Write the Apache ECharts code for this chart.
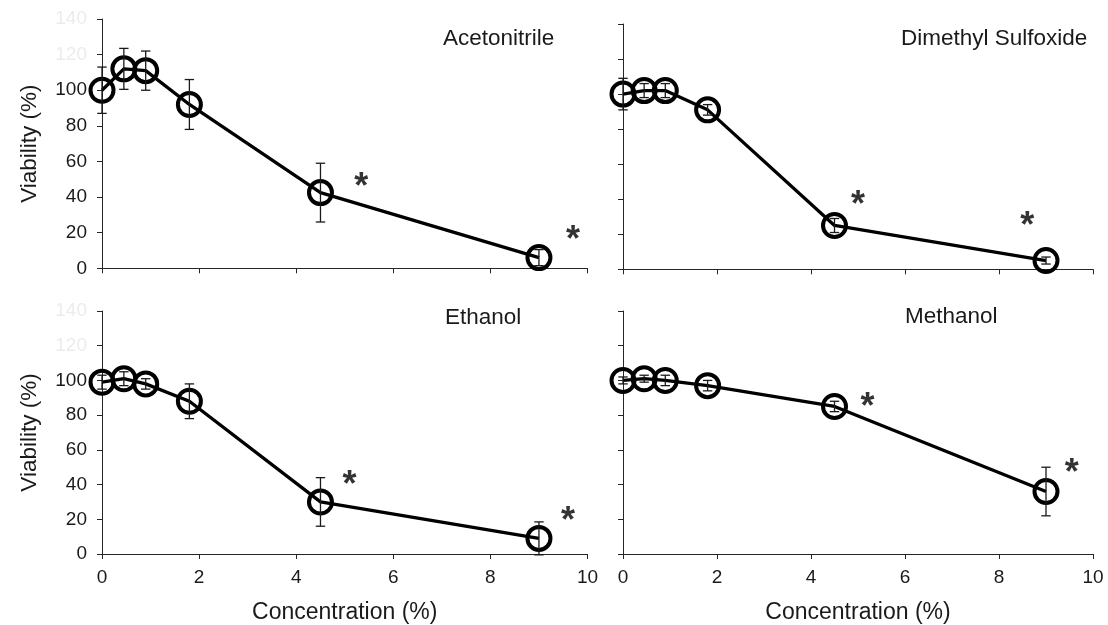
<!DOCTYPE html>
<html>
<head>
<meta charset="utf-8">
<script src="https://cdn.jsdelivr.net/npm/echarts@6/dist/echarts.min.js"></script>
<style>
html,body{margin:0;padding:0;background:#fff;}
#chart{width:1108px;height:625px;}
</style>
</head>
<body>
<div id="chart"></div>
<script>
// ---- data ----
const concentrations = [0, 0.45, 0.9, 1.8, 4.5, 9];
const panelTitles = ['Acetonitrile', 'Dimethyl Sulfoxide', 'Ethanol', 'Methanol'];
const acetonitrileMean = [100, 112, 111, 92, 42.5, 6];
const acetonitrileErr  = [13, 11.5, 11, 14, 16.5, 4.5];
const dmsoMean = [100, 102, 102, 91, 25, 5];
const dmsoErr  = [9, 4, 4, 3, 4, 2];
const ethanolMean = [99, 101, 98, 88, 30, 9];
const ethanolErr  = [4, 4, 3, 10, 14, 9.5];
const methanolMean = [100, 101, 100, 97, 85, 36];
const methanolErr  = [2, 2, 3, 3, 3, 14];
const acetonitrileStars = [[5.34, 47.7], [9.7, 18]];
const dmsoStars = [[5.0, 39], [8.6, 27]];
const ethanolStars = [[5.1, 42], [9.6, 21]];
const methanolStars = [[5.2, 87], [9.55, 49]];
const yTicks = [0, 20, 40, 60, 80, 100, 120, 140];
const xTicks = [0, 2, 4, 6, 8, 10];
const xAxisTitle = 'Concentration (%)';
const yAxisTitle = 'Viability (%)';

const means = [acetonitrileMean, dmsoMean, ethanolMean, methanolMean];
const errs = [acetonitrileErr, dmsoErr, ethanolErr, methanolErr];
const stars = [acetonitrileStars, dmsoStars, ethanolStars, methanolStars];

const FONT = '"Liberation Sans", Arial, sans-serif';
const AXIS_COLOR = '#262626';
const TEXT_COLOR = '#1a1a1a';

const grids = [
  {left: 102, top: 19, width: 485.5, height: 249.3},
  {left: 623, top: 24, width: 470, height: 245.3},
  {left: 102, top: 311, width: 485.5, height: 243.5},
  {left: 623, top: 311, width: 470, height: 244}
];
const titlePos = [
  {left: 443, top: 27},
  {left: 901, top: 27},
  {left: 445, top: 306},
  {left: 905, top: 305}
];

const xAxes = grids.map((g, i) => ({
  type: 'value', gridIndex: i, min: xTicks[0], max: xTicks[xTicks.length - 1], interval: 2,
  splitLine: {show: false},
  axisLine: {lineStyle: {color: AXIS_COLOR, width: 1}},
  axisTick: {show: true, length: 5, lineStyle: {color: AXIS_COLOR}},
  axisLabel: {show: i >= 2, color: TEXT_COLOR, fontSize: 19, fontFamily: FONT, margin: 14},
  name: i >= 2 ? xAxisTitle : '',
  nameLocation: 'middle', nameGap: 47,
  nameTextStyle: {fontSize: 23, fontFamily: FONT, color: TEXT_COLOR}
}));
const yAxes = grids.map((g, i) => ({
  type: 'value', gridIndex: i, min: yTicks[0], max: yTicks[yTicks.length - 1], interval: 20,
  splitLine: {show: false},
  axisLine: {show: true, lineStyle: {color: AXIS_COLOR, width: 1}},
  axisTick: {show: true, length: 5, lineStyle: {color: AXIS_COLOR}},
  axisLabel: {show: i % 2 === 0, fontSize: 19, fontFamily: FONT, margin: 15,
    color: (v) => (Number(v) >= 120 ? '#ececec' : TEXT_COLOR)},
  name: i % 2 === 0 ? yAxisTitle : '',
  nameLocation: 'middle', nameRotate: 90, nameGap: 61,
  nameTextStyle: {fontSize: 22.5, fontFamily: FONT, color: TEXT_COLOR}
}));

const series = [];
means.forEach((m, i) => {
  const e = errs[i];
  series.push({
    type: 'custom', xAxisIndex: i, yAxisIndex: i, z: 3,
    data: concentrations.map((c, k) => [c, m[k] - e[k], m[k] + e[k]]),
    renderItem: function (params, api) {
      const x = api.value(0);
      const lo = api.coord([x, api.value(1)]);
      const hi = api.coord([x, api.value(2)]);
      const cw = 4.7;
      const st = {stroke: '#1a1a1a', lineWidth: 1.3};
      return {type: 'group', children: [
        {type: 'line', shape: {x1: lo[0], y1: lo[1], x2: hi[0], y2: hi[1]}, style: st},
        {type: 'line', shape: {x1: lo[0] - cw, y1: lo[1], x2: lo[0] + cw, y2: lo[1]}, style: st},
        {type: 'line', shape: {x1: hi[0] - cw, y1: hi[1], x2: hi[0] + cw, y2: hi[1]}, style: st}
      ]};
    }
  });
  series.push({
    type: 'line', xAxisIndex: i, yAxisIndex: i, z: 2,
    data: concentrations.map((c, k) => [c, m[k]]),
    symbol: 'circle', symbolSize: 23, showAllSymbol: true,
    lineStyle: {color: '#000', width: 3.3},
    itemStyle: {color: 'rgba(0,0,0,0)', borderColor: '#000', borderWidth: 4},
    emphasis: {disabled: true}, animation: false
  });
  series.push({
    type: 'scatter', xAxisIndex: i, yAxisIndex: i, z: 4,
    data: stars[i], symbolSize: 1, itemStyle: {color: 'rgba(0,0,0,0)'},
    label: {show: true, formatter: '*', position: 'inside', offset: [0, 5],
      fontSize: 36, fontWeight: 'bold', fontFamily: FONT, color: '#000'},
    silent: true
  });
});

const chart = echarts.init(document.getElementById('chart'), null, {renderer: 'canvas'});
chart.setOption({
  animation: false,
  backgroundColor: '#fff',
  title: panelTitles.map((t, i) => ({
    text: t, left: titlePos[i].left, top: titlePos[i].top, padding: 0,
    textStyle: {fontSize: 22.5, fontWeight: 'normal', fontFamily: FONT, color: TEXT_COLOR}
  })),
  grid: grids,
  xAxis: xAxes,
  yAxis: yAxes,
  series: series
});
</script>
</body>
</html>
